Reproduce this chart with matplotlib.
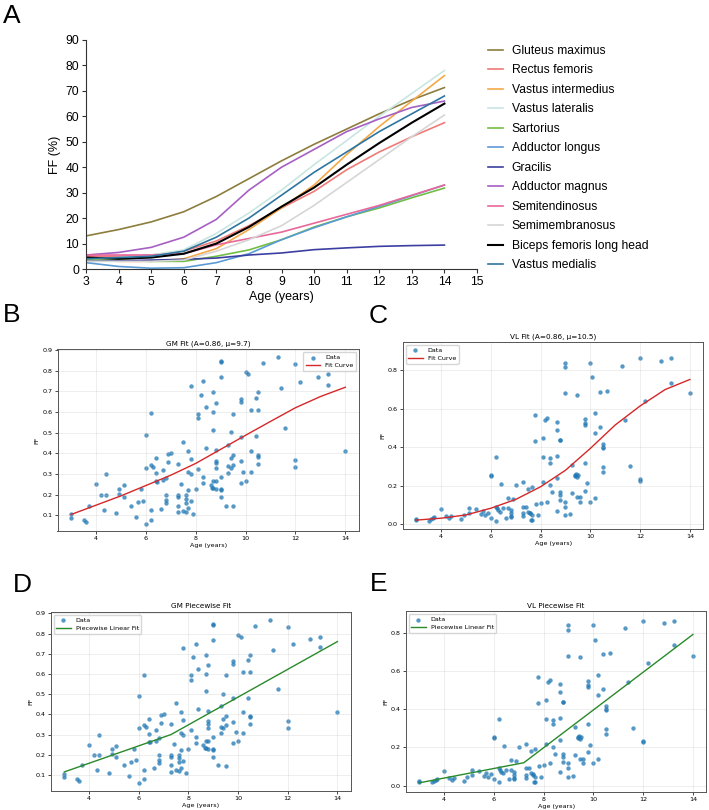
import numpy as np
import matplotlib
matplotlib.use('Agg')
import matplotlib.pyplot as plt

# ---------------------------------------------------------------- data
# Panel A: smoothed FF curves (%) per muscle, read at integer ages
ages_a = [3, 4, 5, 6, 7, 8, 9, 10, 11, 12, 13, 14]
muscles = ["Gluteus maximus", "Rectus femoris", "Vastus intermedius",
           "Vastus lateralis", "Sartorius", "Adductor longus", "Gracilis",
           "Adductor magnus", "Semitendinosus", "Semimembranosus",
           "Biceps femoris long head", "Vastus medialis"]
ff_gluteus = [13, 15.5, 18.5, 22.5, 28.5, 35.5, 42.5, 49, 55, 61, 66.5, 71.3]
ff_rectus = [5, 5, 5.5, 7, 11, 17, 24, 30.5, 39, 46, 52, 57.5]
ff_vint = [3.5, 3, 3, 4, 8, 15.5, 24, 33, 45, 56, 66, 76]
ff_vlat = [4, 4.5, 5.5, 7.5, 14, 22, 31, 41, 50.5, 60, 69, 78]
ff_sart = [3.5, 3.5, 3, 3, 5, 7.5, 11.5, 16.5, 20.5, 24, 28, 31.8]
ff_addl = [2.5, 1, 0.3, 0.5, 2.5, 6, 11.5, 16.2, 20.5, 24.6, 28.8, 33]
ff_grac = [3, 3.2, 3.5, 3.8, 4.3, 5.5, 6.3, 7.6, 8.3, 8.9, 9.2, 9.4]
ff_addm = [5.5, 6.5, 8.5, 12.5, 19.5, 31, 40, 47, 54, 59, 63.5, 66]
ff_semit = [5.5, 5.5, 5.5, 6, 9.5, 12, 14.5, 18, 21.5, 25, 29, 33]
ff_semim = [3, 3, 3, 3.5, 7, 11.5, 17, 25, 34, 43, 52, 60.5]
ff_bfl = [4.5, 4, 4.5, 6, 10, 16.5, 24.5, 32, 41, 49.5, 57.5, 65]
ff_vmed = [4, 4.5, 5, 7, 12.5, 20, 29, 38, 46, 54, 61, 68]
curves_a = [ff_gluteus, ff_rectus, ff_vint, ff_vlat, ff_sart, ff_addl,
            ff_grac, ff_addm, ff_semit, ff_semim, ff_bfl, ff_vmed]
colors_a = ['#8c7d3c', '#f07a78', '#f5a849', '#c9e6e3', '#72be44', '#5b9bd5',
            '#3c3fa1', '#a65fc3', '#e8689a', '#d6d6d6', 'black', '#2e75a0']

# GM individual data (age, FF)
gm_age = [3.0, 3.0, 3.5, 3.6, 3.7, 4.0, 4.2, 4.3, 4.4, 4.4, 4.8, 4.9, 4.9,
          5.1, 5.1, 5.4, 5.6, 5.7, 5.8, 5.9, 6.0, 6.0, 6.0, 6.2, 6.2, 6.2,
          6.2, 6.3, 6.4, 6.4, 6.4, 6.45, 6.6, 6.7, 6.7, 6.8, 6.8, 6.8, 6.8,
          6.9, 6.9, 7.0, 7.3, 7.3, 7.3, 7.3, 7.3, 7.4, 7.5, 7.5, 7.6, 7.6,
          7.6, 7.6, 7.7, 7.7, 7.7, 7.7, 7.8, 7.8, 7.8, 7.8, 7.9, 8.0, 8.1,
          8.1, 8.1, 8.2, 8.3, 8.3, 8.3, 8.4, 8.4, 8.6, 8.65, 8.7, 8.7, 8.7,
          8.7, 8.7, 8.8, 8.8, 8.8, 8.8, 8.8, 8.8, 8.8, 9.0, 9.0, 9.0, 9.0,
          9.0, 9.0, 9.0, 9.2, 9.3, 9.3, 9.3, 9.4, 9.4, 9.4, 9.5, 9.5, 9.5,
          9.5, 9.8, 9.8, 9.8, 9.8, 9.8, 9.9, 10.0, 10.1, 10.0, 10.2, 10.2,
          10.2, 10.4, 10.4, 10.5, 10.5, 10.5, 10.5, 10.5, 10.7, 11.3, 11.4,
          11.6, 12.0, 12.0, 12.0, 12.2, 12.9, 13.3, 13.3, 14.0]
gm_ff = [0.09, 0.105, 0.08, 0.07, 0.147, 0.25, 0.2, 0.125, 0.3, 0.197, 0.112,
         0.23, 0.203, 0.245, 0.19, 0.147, 0.093, 0.166, 0.226, 0.172, 0.49,
         0.33, 0.06, 0.595, 0.345, 0.125, 0.08, 0.335, 0.378, 0.305, 0.265,
         0.263, 0.132, 0.322, 0.27, 0.282, 0.197, 0.175, 0.16, 0.357, 0.397,
         0.4, 0.35, 0.2, 0.19, 0.148, 0.115, 0.253, 0.455, 0.122, 0.118, 0.2,
         0.182, 0.162, 0.41, 0.31, 0.225, 0.135, 0.728, 0.373, 0.3, 0.17,
         0.108, 0.226, 0.593, 0.572, 0.323, 0.685, 0.748, 0.288, 0.258,
         0.626, 0.425, 0.248, 0.235, 0.695, 0.6, 0.515, 0.268, 0.232, 0.645,
         0.415, 0.365, 0.352, 0.33, 0.266, 0.23, 0.845, 0.84, 0.77, 0.288,
         0.226, 0.222, 0.187, 0.147, 0.443, 0.337, 0.306, 0.502, 0.33, 0.378,
         0.593, 0.393, 0.345, 0.145, 0.662, 0.648, 0.48, 0.363, 0.258, 0.312,
         0.792, 0.782, 0.267, 0.61, 0.41, 0.31, 0.667, 0.483, 0.695, 0.61,
         0.392, 0.385, 0.35, 0.836, 0.866, 0.718, 0.523, 0.834, 0.367, 0.333,
         0.746, 0.772, 0.782, 0.733, 0.41]

# VL individual data (age, FF)
vl_age = [3.0, 3.0, 3.5, 3.57, 3.65, 3.7, 4.0, 4.2, 4.3, 4.4, 4.8, 4.9, 5.1,
          5.1, 5.4, 5.6, 5.7, 5.76, 5.9, 6.0, 6.0, 6.0, 6.2, 6.2, 6.25, 6.2,
          6.3, 6.36, 6.4, 6.5, 6.6, 6.7, 6.7, 6.8, 6.8, 6.8, 6.8, 6.9, 7.0,
          7.3, 7.3, 7.3, 7.3, 7.4, 7.5, 7.5, 7.57, 7.57, 7.63, 7.67, 7.67,
          7.67, 7.77, 7.77, 7.8, 7.9, 8.0, 8.08, 8.08, 8.08, 8.17, 8.26, 8.26,
          8.37, 8.37, 8.37, 8.46, 8.66, 8.66, 8.66, 8.66, 8.66, 8.77, 8.77,
          8.77, 8.77, 8.77, 8.96, 8.96, 8.96, 8.96, 8.96, 8.96, 9.17, 9.27,
          9.27, 9.37, 9.4, 9.44, 9.47, 9.5, 9.47, 9.47, 9.58, 9.58, 9.78,
          9.78, 9.78, 9.78, 9.78, 9.88, 9.98, 9.98, 10.07, 10.18, 10.18,
          10.18, 10.38, 10.38, 10.49, 10.49, 10.49, 10.49, 10.49, 10.68,
          11.28, 11.39, 11.59, 11.99, 11.99, 11.99, 12.19, 12.86, 13.26,
          13.26, 14.0]
vl_ff = [0.024, 0.02, 0.017, 0.024, 0.03, 0.035, 0.078, 0.042, 0.03, 0.042,
         0.026, 0.047, 0.082, 0.056, 0.076, 0.05, 0.068, 0.047, 0.059, 0.255,
         0.25, 0.033, 0.35, 0.09, 0.082, 0.017, 0.073, 0.064, 0.21, 0.082,
         0.033, 0.134, 0.082, 0.073, 0.056, 0.042, 0.035, 0.128, 0.203, 0.22,
         0.09, 0.056, 0.042, 0.09, 0.182, 0.064, 0.059, 0.055, 0.02, 0.047,
         0.02, 0.194, 0.568, 0.434, 0.104, 0.047, 0.108, 0.446, 0.35, 0.22,
         0.542, 0.55, 0.116, 0.345, 0.32, 0.203, 0.165, 0.53, 0.49, 0.356,
         0.238, 0.07, 0.44, 0.438, 0.165, 0.15, 0.125, 0.84, 0.816, 0.68,
         0.116, 0.09, 0.047, 0.052, 0.307, 0.16, 0.255, 0.25, 0.26, 0.245,
         0.255, 0.672, 0.142, 0.116, 0.142, 0.547, 0.524, 0.515, 0.32, 0.174,
         0.215, 0.84, 0.116, 0.764, 0.472, 0.576, 0.137, 0.69, 0.507, 0.417,
         0.4, 0.395, 0.295, 0.27, 0.695, 0.823, 0.542, 0.302, 0.863, 0.233,
         0.226, 0.642, 0.85, 0.863, 0.733, 0.68]

# fitted curves
fit_age = [3, 4, 5, 6, 7, 8, 9, 10, 11, 12, 13, 14]
gm_sigmoid = [0.105, 0.15, 0.195, 0.245, 0.295, 0.352, 0.42, 0.488, 0.555,
              0.621, 0.675, 0.72]
vl_sigmoid = [0.02, 0.03, 0.047, 0.082, 0.128, 0.194, 0.28, 0.394, 0.516,
              0.615, 0.70, 0.753]
gm_pw_age = [3, 7.3, 14]
gm_pw_ff = [0.115, 0.30, 0.76]
vl_pw_age = [3, 7.2, 14]
vl_pw_ff = [0.015, 0.12, 0.79]

# ---------------------------------------------------------------- figure
W, H = 709, 810
fig = plt.figure(figsize=(W / 100, H / 100), dpi=100)


def px_axes(left, top, right, bottom):
    return fig.add_axes([left / W, 1 - bottom / H, (right - left) / W,
                         (bottom - top) / H])


ARIAL = 'Liberation Sans'

# panel letters
for letter, x, y in [('A', 3, 23), ('B', 3, 322), ('C', 369, 323),
                     ('D', 13, 592), ('E', 370, 591)]:
    fig.text(x / W, 1 - y / H, letter, fontsize=19, family=ARIAL,
             va='baseline', ha='left')

# ---- A
ax = px_axes(86, 40, 477, 269)
for name, vals, c in zip(muscles, curves_a, colors_a):
    ax.plot(ages_a, vals, color=c, lw=1.5 if c == 'black' else 1.2,
            label=name)
ax.set_xlim(3, 15)
ax.set_ylim(0, 90)
ax.set_xticks(range(3, 16))
ax.set_yticks(range(0, 91, 10))
for s in ['top', 'right']:
    ax.spines[s].set_visible(False)
for s in ['left', 'bottom']:
    ax.spines[s].set_color('#333333')
    ax.spines[s].set_linewidth(0.8)
ax.tick_params(labelsize=8.7, length=3, width=0.8, color='#333333', pad=2)
for lab in ax.get_xticklabels() + ax.get_yticklabels():
    lab.set_family(ARIAL)
ax.set_xlabel('Age (years)', fontsize=9, family=ARIAL, labelpad=2)
ax.set_ylabel('FF (%)', fontsize=9, family=ARIAL, labelpad=3)
leg = ax.legend(loc='upper left', bbox_to_anchor=(488 / W, 1 - 45 / H),
                bbox_transform=fig.transFigure, frameon=False,
                prop={'family': ARIAL, 'size': 8.7}, handlelength=1.25,
                handletextpad=0.7, labelspacing=0.62, borderpad=0,
                borderaxespad=0)

# ---- B-E helpers
SMALL = 4.6


def style_small(ax, title, ylim):
    ax.set_title(title, fontsize=5.2, pad=2.5)
    ax.set_xlabel('Age (years)', fontsize=SMALL, labelpad=1.5)
    ax.set_ylabel('FF', fontsize=SMALL, labelpad=2)
    ax.set_ylim(*ylim)
    ax.set_xticks([4, 6, 8, 10, 12, 14])
    ax.grid(True, alpha=0.3, lw=0.5)
    ax.tick_params(labelsize=SMALL, length=2, width=0.5, pad=1.5)
    for s in ax.spines.values():
        s.set_linewidth(0.7)
        s.set_color('#555555')


def legend_small(ax, loc):
    ax.legend(loc=loc, fontsize=SMALL, frameon=True, framealpha=0.8,
              edgecolor='#cccccc', handlelength=2.2, borderpad=0.4,
              labelspacing=0.4, fancybox=True)


# ---- B
ax = px_axes(57.5, 349, 359, 531)
ax.scatter(gm_age, gm_ff, s=10, alpha=0.75, color='tab:blue', lw=0,
           label='Data')
ax.plot(fit_age, gm_sigmoid, color='#d62728', lw=1.0, label='Fit Curve')
style_small(ax, 'GM Fit (A=0.86, \u03bc=9.7)', (0.025, 0.905))
ax.set_yticks(np.arange(0.1, 0.91, 0.1))
legend_small(ax, 'upper right')

# ---- C
ax = px_axes(402.7, 341.7, 703.5, 529.3)
ax.scatter(vl_age, vl_ff, s=10, alpha=0.75, color='tab:blue', lw=0,
           label='Data')
ax.plot(fit_age, vl_sigmoid, color='#d62728', lw=1.0, label='Fit Curve')
style_small(ax, 'VL Fit (A=0.86, \u03bc=10.5)', (-0.028, 0.95))
ax.set_yticks([0.0, 0.2, 0.4, 0.6, 0.8])
legend_small(ax, 'upper left')

# ---- D
ax = px_axes(50.7, 611.7, 351, 790.7)
ax.scatter(gm_age, gm_ff, s=10, alpha=0.75, color='tab:blue', lw=0,
           label='Data')
ax.plot(gm_pw_age, gm_pw_ff, color='#2a8a2a', lw=1.0,
        label='Piecewise Linear Fit')
style_small(ax, 'GM Piecewise Fit', (0.022, 0.908))
ax.set_yticks(np.arange(0.1, 0.91, 0.1))
legend_small(ax, 'upper left')

# ---- E
ax = px_axes(405.7, 611, 706.5, 792)
ax.scatter(vl_age, vl_ff, s=10, alpha=0.75, color='tab:blue', lw=0,
           label='Data')
ax.plot(vl_pw_age, vl_pw_ff, color='#2a8a2a', lw=1.0,
        label='Piecewise Linear Fit')
style_small(ax, 'VL Piecewise Fit', (-0.033, 0.913))
ax.set_yticks([0.0, 0.2, 0.4, 0.6, 0.8])
legend_small(ax, 'upper left')

fig.savefig('out.png', dpi=100)
